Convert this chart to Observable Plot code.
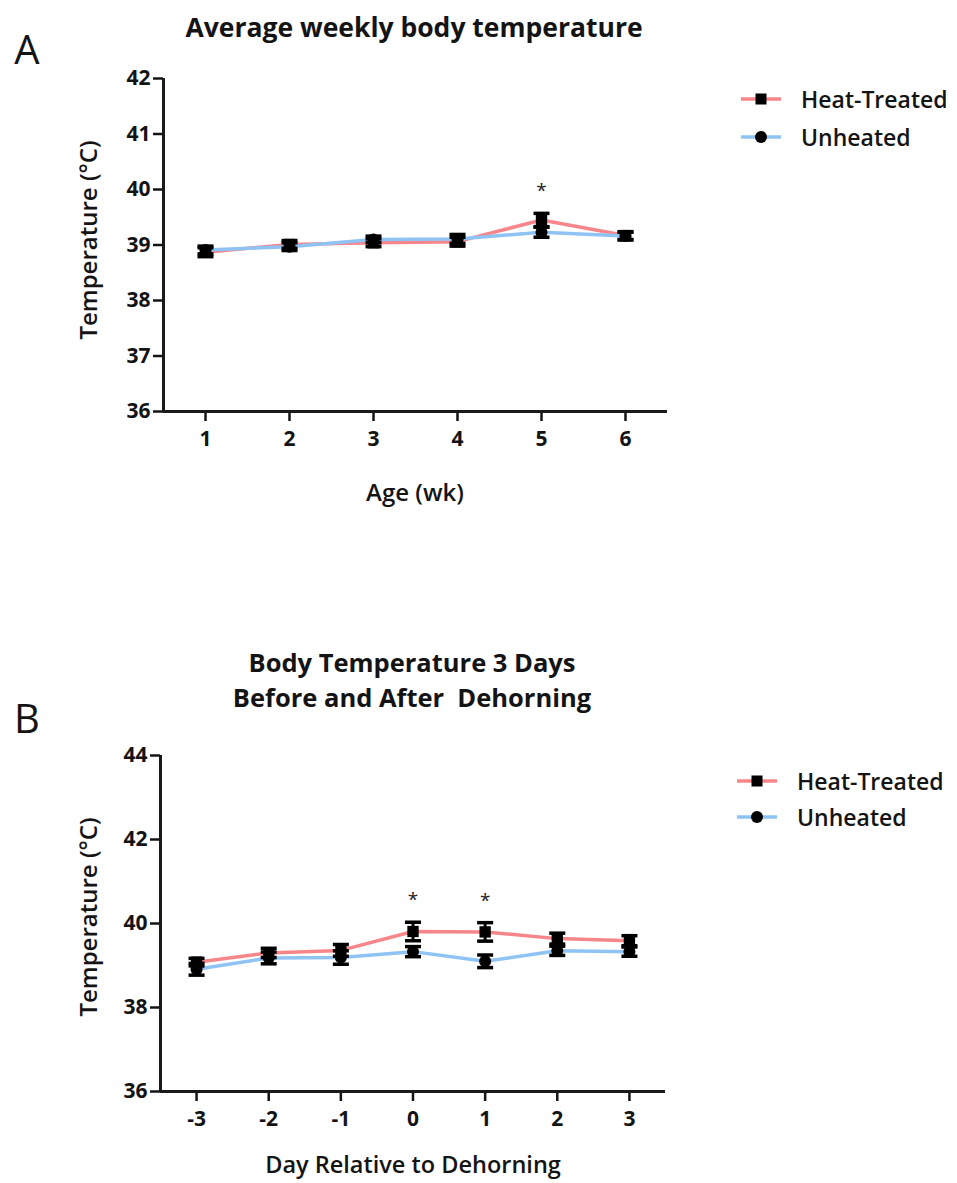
<!DOCTYPE html>
<html><head><meta charset="utf-8">
<script src="https://cdn.jsdelivr.net/npm/d3@7"></script>
<script src="https://cdn.jsdelivr.net/npm/@observablehq/plot@0.6"></script>
<style>
body{margin:0;background:#fff;}
#root{position:relative;width:957px;height:1183px;font-family:"Open Sans",sans-serif;color:#141414;overflow:hidden;}
.abs{position:absolute;white-space:nowrap;line-height:1;}
.c{transform:translate(-50%,-50%);}
.rot{transform:translate(-50%,-50%) rotate(-90deg);}
.plot{position:absolute;left:0;}
.leg{position:absolute;display:flex;align-items:center;font-weight:600;font-size:23px;white-space:nowrap;}
.leg svg{margin-right:18px;}
</style></head><body><div id="root"></div>
<script>
// Panel A: average weekly body temperature
const weeks = [1, 2, 3, 4, 5, 6];
const heatA = [38.87, 39.01, 39.04, 39.06, 39.45, 39.17];
const heatSEA = [0.08, 0.07, 0.07, 0.08, 0.12, 0.07];
const unheatA = [38.91, 38.97, 39.10, 39.11, 39.23, 39.16];
const unheatSEA = [0.07, 0.07, 0.06, 0.08, 0.09, 0.07];
const sigA = [5];
const yTicksA = [36, 37, 38, 39, 40, 41, 42];

// Panel B: 3 days before and after dehorning
const days = [-3, -2, -1, 0, 1, 2, 3];
const dayLabels = ["-3", "-2", "-1", "0", "1", "2", "3"];
const heatB = [39.08, 39.30, 39.36, 39.81, 39.80, 39.64, 39.59];
const heatSEB = [0.09, 0.11, 0.14, 0.22, 0.22, 0.13, 0.12];
const unheatB = [38.91, 39.18, 39.19, 39.33, 39.10, 39.35, 39.33];
const unheatSEB = [0.14, 0.14, 0.16, 0.12, 0.15, 0.11, 0.11];
const sigB = [0, 1];
const yTicksB = [36, 38, 40, 42, 44];

const seriesNames = ["Heat-Treated", "Unheated"];
const seriesColors = ["#f7868a", "#8fc3f4"];
const seriesSymbols = ["square", "circle"];

const capSymbol = {draw(ctx, size){ const w = Math.sqrt(size / Math.PI); ctx.moveTo(-w, 0); ctx.lineTo(w, 0); }};

function rows(xs, means, ses){ return xs.map((x, i) => ({x, mean: means[i], se: ses[i]})); }

function panel({xs, xLabels, xDomain, yDomain, yTicks, heat, heatSE, unheat, unheatSE, sig, height, margins}){
  const hr = rows(xs, heat, heatSE);
  const ur = rows(xs, unheat, unheatSE);
  const all = hr.concat(ur);
  const sr = hr.filter(d => sig.includes(d.x));
  const fmt = xLabels ? (d => xLabels[xs.indexOf(d)]) : (d => String(d));
  return Plot.plot({
    width: 957, height,
    marginTop: margins[0], marginRight: margins[1], marginBottom: margins[2], marginLeft: margins[3],
    style: {fontFamily: '"Open Sans", sans-serif', fontWeight: 700, fontSize: "21px", color: "#141414", background: "transparent", overflow: "visible"},
    x: {domain: xDomain, label: null},
    y: {domain: yDomain, label: null},
    marks: [
      Plot.axisY({ticks: yTicks, tickSize: 10, tickPadding: 3, strokeWidth: 2.5, label: null, tickFormat: d => String(d)}),
      Plot.axisX({ticks: xs, tickSize: 10, tickPadding: 10, strokeWidth: 2.5, label: null, tickFormat: fmt}),
      Plot.ruleY([yDomain[0]], {stroke: "#1a1a1a", strokeWidth: 3}),
      Plot.ruleX([xDomain[0]], {stroke: "#1a1a1a", strokeWidth: 3}),
      Plot.line(hr, {x: "x", y: "mean", stroke: seriesColors[0], strokeWidth: 3.5}),
      Plot.line(ur, {x: "x", y: "mean", stroke: seriesColors[1], strokeWidth: 3.5}),
      Plot.ruleX(all, {x: "x", y1: d => d.mean - d.se, y2: d => d.mean + d.se, stroke: "#000", strokeWidth: 3}),
      Plot.dot(all, {x: "x", y: d => d.mean + d.se, symbol: capSymbol, r: 8, fill: "none", stroke: "#000", strokeWidth: 3.5}),
      Plot.dot(all, {x: "x", y: d => d.mean - d.se, symbol: capSymbol, r: 8, fill: "none", stroke: "#000", strokeWidth: 3.5}),
      Plot.dot(hr, {x: "x", y: "mean", symbol: seriesSymbols[0], r: 6.4, fill: "#000", stroke: "none"}),
      Plot.dot(ur, {x: "x", y: "mean", symbol: seriesSymbols[1], r: 6, fill: "#000", stroke: "none"}),
      Plot.text(sr, {x: "x", y: d => d.mean + d.se, text: () => "*", dy: -22, fontSize: 19, fontWeight: 400, fill: "#222"})
    ]
  });
}

const root = document.getElementById("root");
function addText(txt, x, y, cls, style){
  const d = document.createElement("div");
  d.className = "abs " + cls;
  d.textContent = txt;
  d.style.left = x + "px"; d.style.top = y + "px";
  Object.assign(d.style, style || {});
  root.appendChild(d);
  return d;
}
function addLegend(x, y, gap){
  seriesNames.forEach((name, i) => {
    const div = document.createElement("div");
    div.className = "leg";
    div.style.left = x + "px"; div.style.top = (y + i * gap - 14) + "px"; div.style.height = "28px";
    const sym = i === 0 ? '<rect x="14.5" y="8.5" width="11" height="11" fill="#000"/>' : '<circle cx="20" cy="14" r="6" fill="#000"/>';
    div.innerHTML = `<svg width="42" height="28"><line x1="0" x2="40" y1="14" y2="14" stroke="${seriesColors[i]}" stroke-width="3.5"/>${sym}</svg><span>${name}</span>`;
    root.appendChild(div);
  });
}

// Panel A
const pA = panel({xs: weeks, xLabels: null, xDomain: [0.5, 6.5], yDomain: [36, 42], yTicks: yTicksA,
  heat: heatA, heatSE: heatSEA, unheat: unheatA, unheatSE: unheatSEA, sig: sigA,
  height: 520, margins: [78, 290, 109, 163]});
pA.classList.add("plot"); pA.style.top = "0px";
root.appendChild(pA);

// Panel B
const pB = panel({xs: days, xLabels: dayLabels, xDomain: [-3.5, 3.5], yDomain: [36, 44], yTicks: yTicksB,
  heat: heatB, heatSE: heatSEB, unheat: unheatB, unheatSE: unheatSEB, sig: sigB,
  height: 583, margins: [155, 292, 92, 160]});
pB.classList.add("plot"); pB.style.top = "600px";
root.appendChild(pB);

// Text
addText("A", 27, 49, "c", {fontSize: "40px", fontWeight: 400});
addText("B", 27, 718, "c", {fontSize: "40px", fontWeight: 400});
addText("Average weekly body temperature", 414, 27, "c", {fontSize: "26.5px", fontWeight: 700});
addText("Body Temperature 3 Days", 412, 663, "c", {fontSize: "25.5px", fontWeight: 700});
addText("Before and After\u00a0 Dehorning", 412, 698, "c", {fontSize: "25.5px", fontWeight: 700});
addText("Temperature (\u00b0C)", 88, 240, "rot", {fontSize: "24px", fontWeight: 600});
addText("Temperature (\u00b0C)", 88, 917, "rot", {fontSize: "24px", fontWeight: 600});
addText("Age (wk)", 415, 492, "c", {fontSize: "24px", fontWeight: 600});
addText("Day Relative to Dehorning", 413, 1165, "c", {fontSize: "23.5px", fontWeight: 600});
addLegend(741, 99, 38);
addLegend(737, 781, 36);
</script></body></html>
